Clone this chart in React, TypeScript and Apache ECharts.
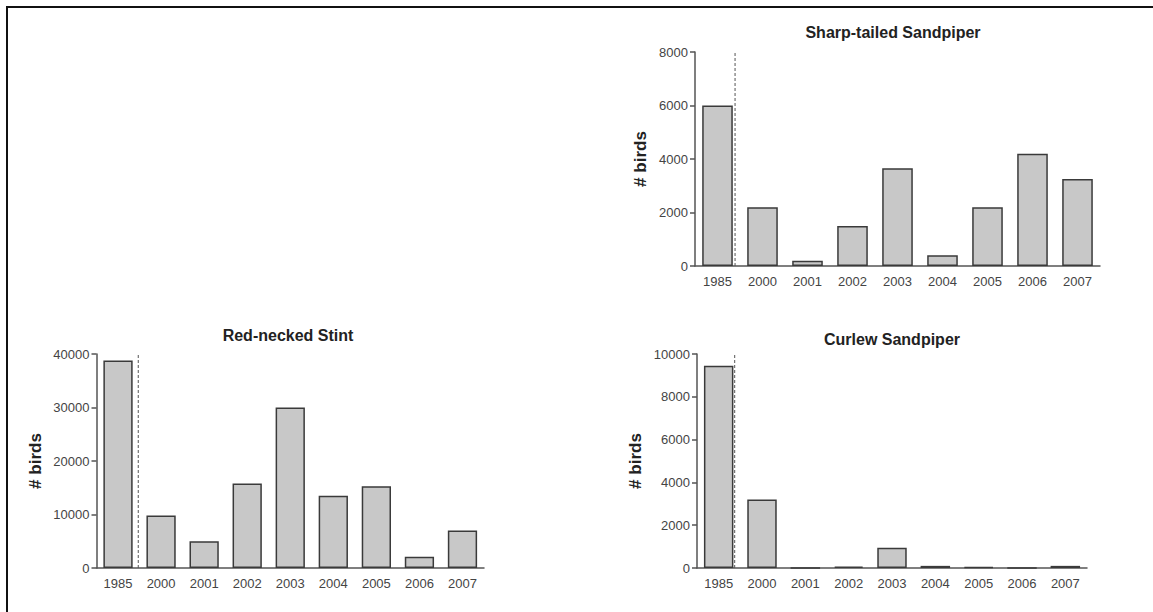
import React, { useEffect, useRef } from "react";
import * as echarts from "echarts";

const years = ["1985", "2000", "2001", "2002", "2003", "2004", "2005", "2006", "2007"];

const sharpTailedTitle = "Sharp-tailed Sandpiper";
const sharpTailed = [6000, 2200, 200, 1500, 3650, 400, 2200, 4200, 3250];
const sharpTailedMax = 8000;
const sharpTailedStep = 2000;

const redNeckedTitle = "Red-necked Stint";
const redNecked = [38800, 9800, 5000, 15800, 30000, 13500, 15300, 2100, 7000];
const redNeckedMax = 40000;
const redNeckedStep = 10000;

const curlewTitle = "Curlew Sandpiper";
const curlew = [9450, 3200, 0, 70, 950, 100, 40, 0, 100];
const curlewMax = 10000;
const curlewStep = 2000;

// separator position (in category units from the left edge of the axis)
const separators = [0.89, 0.97, 0.87];

const yName = "# birds";

const FONT = "Liberation Sans, Arial, Helvetica, sans-serif";

export default function App() {
  const ref = useRef<HTMLDivElement>(null);

  useEffect(() => {
    if (!ref.current) return;
    const chart = echarts.init(ref.current, undefined, { renderer: "svg" });

    const panels = [
      { title: sharpTailedTitle, data: sharpTailed, max: sharpTailedMax, step: sharpTailedStep,
        grid: { left: 695, top: 52, width: 405, height: 214 }, titlePos: [893, 32], nameGap: 46 },
      { title: redNeckedTitle, data: redNecked, max: redNeckedMax, step: redNeckedStep,
        grid: { left: 96.5, top: 354, width: 387.5, height: 214 }, titlePos: [288, 335], nameGap: 53 },
      { title: curlewTitle, data: curlew, max: curlewMax, step: curlewStep,
        grid: { left: 697, top: 354, width: 390, height: 214 }, titlePos: [892, 339], nameGap: 53 },
    ];

    const grid: any[] = [];
    const xAxis: any[] = [];
    const yAxis: any[] = [];
    const series: any[] = [];
    const graphic: any[] = [
      { type: "line", shape: { x1: 6, y1: 7, x2: 1153, y2: 7 }, style: { stroke: "#111", lineWidth: 2 } },
      { type: "line", shape: { x1: 7, y1: 6, x2: 7, y2: 612 }, style: { stroke: "#111", lineWidth: 2 } },
    ];

    panels.forEach((p, i) => {
      grid.push({ ...p.grid, containLabel: false });
      xAxis.push({
        type: "category",
        gridIndex: i,
        data: years,
        axisLine: { show: true, lineStyle: { color: "#555", width: 1.5 } },
        axisTick: { show: false },
        axisLabel: { color: "#444", fontSize: 13, fontFamily: FONT, margin: 9 },
        splitLine: { show: false },
      });
      xAxis.push({
        type: "value",
        gridIndex: i,
        min: 0,
        max: years.length,
        show: false,
      });
      yAxis.push({
        type: "value",
        gridIndex: i,
        min: 0,
        max: p.max,
        interval: p.step,
        name: yName,
        nameLocation: "middle",
        nameGap: p.nameGap,
        nameTextStyle: { color: "#222", fontSize: 17, fontWeight: "bold", fontFamily: FONT },
        axisLine: { show: true, lineStyle: { color: "#555", width: 1.5 } },
        axisTick: { show: true, length: 5, lineStyle: { color: "#555", width: 1.5 } },
        axisLabel: {
          color: "#444",
          fontSize: 13,
          fontFamily: FONT,
          margin: 7,
          formatter: (v: number) => String(v),
        },
        splitLine: { show: false },
      });
      series.push({
        type: "bar",
        xAxisIndex: i * 2,
        yAxisIndex: i,
        data: p.data,
        barCategoryGap: "32%",
        itemStyle: { color: "#c8c8c8", borderColor: "#3a3a3a", borderWidth: 1.5 },
      });
      series.push({
        type: "line",
        xAxisIndex: i * 2 + 1,
        yAxisIndex: i,
        data: [[separators[i], 0], [separators[i], p.max]],
        symbol: "none",
        lineStyle: { color: "#555", width: 1, type: [3, 2] },
        silent: true,
      });
      graphic.push({
        type: "text",
        x: p.titlePos[0],
        y: p.titlePos[1],
        style: {
          text: p.title,
          fill: "#222",
          font: `bold 16px ${FONT}`,
          align: "center",
          verticalAlign: "middle",
        },
      });
    });

    chart.setOption({
      animation: false,
      backgroundColor: "#fff",
      grid,
      xAxis,
      yAxis,
      series,
      graphic,
    });

    return () => chart.dispose();
  }, []);

  return (
    <div
      ref={ref}
      style={{ position: "fixed", left: 0, top: 0, width: 1153, height: 612 }}
    />
  );
}
